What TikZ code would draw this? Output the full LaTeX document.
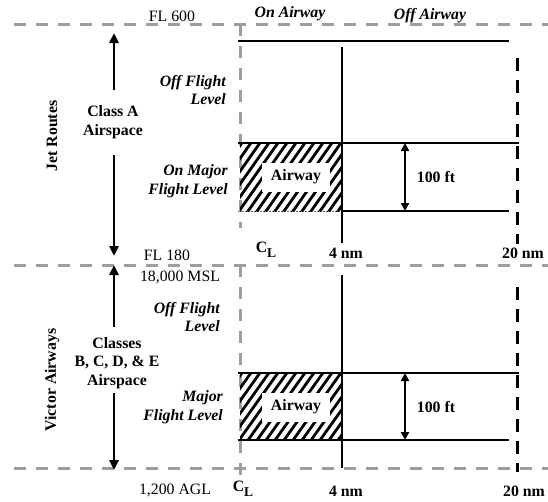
\documentclass[tikz,border=0pt]{standalone}
\usepackage{fontspec}
\setmainfont{Liberation Serif}
\usetikzlibrary{arrows.meta}
\begin{document}
\begin{tikzpicture}[x=1pt,y=-1pt,
  gdash/.style={draw=black!38, line width=3pt, dash pattern=on 12pt off 10pt},
  bdash/.style={draw=black, line width=3pt, dash pattern=on 13pt off 9pt},
  solidln/.style={draw=black, line width=2.5pt},
  arr/.style={line width=2.6pt, -{Triangle[length=10pt,width=9pt]}},
  darr/.style={line width=2.4pt, {Triangle[length=8pt,width=8pt]}-{Triangle[length=8pt,width=8pt]}},
  lbl/.style={font=\fontsize{15.8}{18.5}\selectfont, inner sep=0pt},
  blbl/.style={inner sep=0pt, align=center, font=\fontsize{15.8}{18.5}\selectfont\bfseries},
  ilbl/.style={inner sep=0pt, align=right, font=\fontsize{15.8}{18.5}\selectfont\bfseries\itshape},
  airlbl/.style={blbl, fill=white, minimum width=68pt, minimum height=29pt},
  hatchln/.style={line width=2.8pt, black}
]
\fill[white] (0,0) rectangle (548,501);
\useasboundingbox (0,0) rectangle (548,501);

% ---------- coordinates ----------
\coordinate (gtL) at (14,24);   \coordinate (gtR) at (548,24);
\coordinate (gmL) at (14,265);  \coordinate (gmR) at (548,265);
\coordinate (gbL) at (14,468);  \coordinate (gbR) at (548,468);
\coordinate (gvU1) at (240,24); \coordinate (gvU2) at (240,228);
\coordinate (gvL1) at (240,265);\coordinate (gvL2) at (240,478);

% ---------- gray dashed frame ----------
\draw[gdash] (gtL) -- (gtR);
\draw[gdash] (gmL) -- (gmR);
\draw[gdash] (gbL) -- (gbR);
\draw[gdash] (gvU1) -- (gvU2);
\draw[gdash] (gvL1) -- (gvL2);

% ---------- upper hatch ----------
\begin{scope}
  \clip (240,143) rectangle (342,211);
  \foreach \x in {-60,-51,...,350} { \draw[hatchln] (\x,214) -- (\x+52,140); }
\end{scope}
\draw[black!60, densely dotted, line width=0.8pt] (238,211) -- (342,211);
% ---------- lower hatch ----------
\begin{scope}
  \clip (240,373) rectangle (342,440);
  \foreach \x in {-60,-51,...,350} { \draw[hatchln] (\x,443) -- (\x+52,370); }
\end{scope}

% ---------- upper section ----------
\coordinate (uT1) at (238,41);  \coordinate (uT2) at (509,41);
\coordinate (uV1) at (342,47);  \coordinate (uV2) at (342,243);
\coordinate (uB1) at (238,143); \coordinate (uB2) at (519,143);
\coordinate (uC1) at (342,211); \coordinate (uC2) at (509,211);
\coordinate (uD1) at (517,58);  \coordinate (uD2) at (517,244);
\coordinate (uA1) at (405,143); \coordinate (uA2) at (405,211);
\draw[solidln] (uT1) -- (uT2);
\draw[solidln] (uV1) -- (uV2);
\draw[solidln] (uB1) -- (uB2);
\draw[solidln] (uC1) -- (uC2);
\draw[bdash] (uD1) -- (uD2);
\draw[darr] (uA1) -- (uA2);
\node[airlbl] (uair) at (296,177) {Airway};
\node[blbl] (u100) at (436,177) {100 ft};

% ---------- lower section ----------
\coordinate (lV1) at (342,275); \coordinate (lV2) at (342,468);
\coordinate (lB1) at (238,373); \coordinate (lB2) at (519,373);
\coordinate (lC1) at (238,440); \coordinate (lC2) at (509,440);
\coordinate (lD1) at (517,287); \coordinate (lD2) at (517,472);
\coordinate (lA1) at (405,373); \coordinate (lA2) at (405,440);
\draw[solidln] (lV1) -- (lV2);
\draw[solidln] (lB1) -- (lB2);
\draw[solidln] (lC1) -- (lC2);
\draw[bdash] (lD1) -- (lD2);
\draw[darr] (lA1) -- (lA2);
\node[airlbl] (lair) at (296,407) {Airway};
\node[blbl] (l100) at (436,407) {100 ft};

% ---------- top labels ----------
\node[lbl] (fl600) at (172,16) {FL 600};
\node[ilbl] (onair) at (290,14) {On Airway};
\node[ilbl] (offair) at (430,16) {Off Airway};

% ---------- middle labels ----------
\node[lbl] (fl180) at (167,255) {FL 180};
\node[lbl] (msl) at (180,277) {18,000 MSL};
\node[blbl] (cl1) at (266,250) {C\raisebox{-5pt}{\fontsize{13.5}{13.5}\selectfont L}};
\node[blbl] (nm4a) at (346,253) {4 nm};
\node[blbl] (nm20a) at (523,253) {20 nm};

% ---------- bottom labels ----------
\node[lbl] (agl) at (175,490) {1,200 AGL};
\node[blbl] (cl2) at (243,489) {C\raisebox{-5pt}{\fontsize{13.5}{13.5}\selectfont L}};
\node[blbl] (nm4b) at (346,491) {4 nm};
\node[blbl] (nm20b) at (524,491) {20 nm};

% ---------- left side, upper ----------
\node[blbl, rotate=90] (jet) at (52,136) {Jet Routes};
\node[blbl] (classA) at (113,122) {Class A\\Airspace};
\node[ilbl, anchor=east] (offU) at (226,90) {Off Flight\\Level};
\node[ilbl, anchor=east] (onmaj) at (228,181) {On Major\\Flight Level};
\coordinate (aU1) at (114,90);  \coordinate (aU2) at (114,33);
\coordinate (aU3) at (114,155); \coordinate (aU4) at (114,256);
\draw[arr] (aU1) -- (aU2);
\draw[arr] (aU3) -- (aU4);

% ---------- left side, lower ----------
\node[blbl, rotate=90] (victor) at (52,380) {Victor Airways};
\node[blbl] (classes) at (117,363) {Classes\\B, C, D, \& E\\Airspace};
\node[ilbl, anchor=east] (offL) at (220,317) {Off Flight\\Level};
\node[ilbl, anchor=east] (major) at (223,407) {Major\\Flight Level};
\coordinate (aL1) at (114,327); \coordinate (aL2) at (114,265);
\coordinate (aL3) at (114,393); \coordinate (aL4) at (114,470);
\draw[arr] (aL1) -- (aL2);
\draw[arr] (aL3) -- (aL4);
\end{tikzpicture}
\end{document}
